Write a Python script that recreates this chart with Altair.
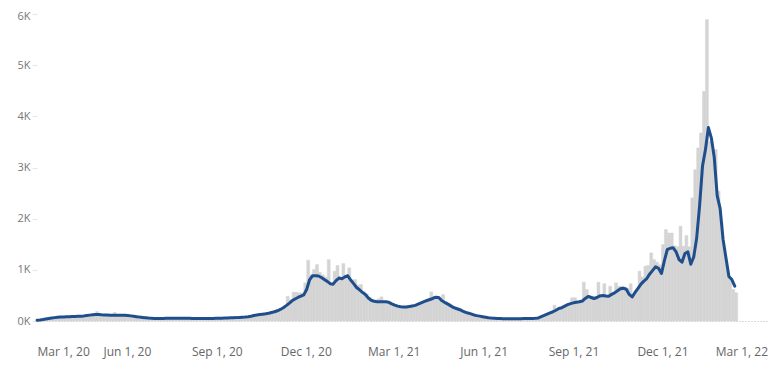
import altair as alt
import pandas as pd

START = "2020-03-01"
BIN_DAYS = 3

# Daily cases in 3-day steps starting Mar 1, 2020
bars_a = [15, 22, 30, 40, 50, 60, 70, 75, 80, 82,
          85, 88, 90, 92, 95, 98, 105, 112, 118, 125,
          185, 125, 122, 118, 116, 115, 166, 115, 114, 114]
bars_b = [113, 110, 102, 94, 86, 78, 72, 66, 60, 56,
          52, 50, 50, 52, 54, 56, 57, 58, 58, 57,
          56, 55, 53, 51, 50, 49, 49, 49, 50, 51]
bars_c = [52, 54, 56, 58, 60, 62, 64, 66, 68, 72,
          76, 80, 88, 98, 112, 122, 130, 138, 146, 158,
          172, 190, 210, 240, 275, 484, 420, 563, 563, 550]
bars_d = [550, 746, 1187, 900, 1006, 1103, 950, 900, 860, 1200,
          700, 973, 1084, 850, 1123, 880, 1039, 800, 811, 700,
          713, 580, 530, 460, 420, 390, 433, 472, 390, 380]
bars_e = [372, 340, 320, 295, 285, 280, 285, 295, 310, 320,
          345, 370, 395, 415, 570, 480, 480, 470, 517, 380,
          350, 315, 280, 255, 244, 210, 185, 165, 145, 125]
bars_f = [110, 100, 88, 78, 68, 60, 57, 52, 50, 47,
          46, 45, 45, 46, 47, 48, 49, 50, 50, 52,
          56, 66, 92, 118, 145, 170, 309, 225, 260, 280]
bars_g = [310, 340, 453, 453, 390, 400, 758, 615, 500, 480,
          460, 758, 510, 729, 510, 680, 540, 746, 680, 680,
          660, 640, 729, 500, 620, 973, 860, 1072, 1085, 1332]
bars_h = [1200, 1150, 1100, 1494, 1787, 1720, 1720, 1470, 1450, 1852,
          1461, 1670, 1450, 2406, 2959, 3383, 3675, 4488, 5889, 3512,
          3350, 3350, 2536, 1924, 1396, 1006, 850, 615, 551]

# 7-day average, read at the same dates
avg_a = [15, 20, 28, 38, 48, 58, 66, 72, 78, 80,
         82, 84, 86, 88, 92, 95, 100, 108, 115, 122,
         127, 125, 120, 117, 115, 113, 113, 113, 113, 113]
avg_b = [112, 108, 100, 92, 84, 76, 70, 64, 58, 54,
         50, 48, 48, 50, 52, 54, 55, 56, 56, 55,
         55, 54, 52, 50, 49, 48, 48, 48, 49, 50]
avg_c = [50, 52, 54, 56, 58, 60, 62, 64, 66, 70,
         74, 78, 84, 94, 108, 118, 125, 132, 140, 150,
         165, 180, 200, 225, 258, 300, 345, 395, 430, 460]
avg_d = [485, 510, 620, 810, 885, 885, 880, 850, 810, 775,
         730, 720, 790, 840, 825, 860, 885, 800, 730, 655,
         610, 560, 517, 450, 405, 385, 375, 375, 375, 375]
avg_e = [365, 335, 310, 290, 277, 272, 275, 285, 295, 305,
         330, 355, 380, 400, 420, 440, 465, 460, 400, 365,
         335, 300, 265, 245, 225, 200, 175, 155, 140, 118]
avg_f = [105, 95, 85, 75, 65, 58, 55, 50, 48, 45,
         44, 43, 43, 44, 45, 46, 47, 48, 48, 49,
         52, 60, 85, 110, 135, 160, 180, 210, 245, 260]
avg_g = [290, 320, 340, 355, 365, 375, 390, 440, 480, 460,
         440, 460, 490, 500, 490, 484, 520, 550, 590, 629,
         640, 620, 520, 470, 560, 640, 720, 780, 830, 920]
avg_h = [990, 1060, 1030, 930, 1180, 1400, 1420, 1430, 1350, 1200,
         1150, 1320, 1350, 1110, 1250, 1620, 2250, 3030, 3350, 3780,
         3580, 3200, 2450, 2200, 1600, 1230, 870, 810, 680]

tick_dates = [(2020, 3), (2020, 6), (2020, 9), (2020, 12), (2021, 3),
              (2021, 6), (2021, 9), (2021, 12), (2022, 3)]
y_ticks = [0, 1000, 2000, 3000, 4000, 5000, 6000]

cases = bars_a + bars_b + bars_c + bars_d + bars_e + bars_f + bars_g + bars_h
avg = avg_a + avg_b + avg_c + avg_d + avg_e + avg_f + avg_g + avg_h

dates = pd.date_range(START, periods=len(cases), freq=f"{BIN_DAYS}D")
df = pd.DataFrame({
    "date": dates.strftime("%Y-%m-%d"),
    "end": (dates + pd.Timedelta(days=BIN_DAYS)).strftime("%Y-%m-%d"),
    "cases": cases,
    "avg": avg,
})

FONT = "Open Sans"

xscale = alt.Scale(domain=[alt.DateTime(year=2020, month=3, date=1),
                           alt.DateTime(year=2022, month=3, date=19)])
yscale = alt.Scale(domain=[0, 6000], nice=False)

xaxis = alt.Axis(
    values=[alt.DateTime(year=y, month=m, date=1) for y, m in tick_dates],
    format="%b %-d, %y",
    ticks=False, tickSize=0,
    grid=False,
    domain=True, domainColor="#b8b8b8", domainDash=[1, 2], domainWidth=1,
    labelFont=FONT, labelFontSize=12, labelColor="#666666",
    labelPadding=25,
    labelAlign={"condition": {"test": "year(datum.value) == 2020 && month(datum.value) == 2",
                              "value": "left"}, "value": "center"},
    labelOffset={"condition": {"test": "year(datum.value) == 2022", "value": -9}, "value": 0},
    title=None,
)
yaxis = alt.Axis(
    values=y_ticks,
    labelExpr="datum.value / 1000 + 'K'",
    domain=False, grid=False,
    ticks=True, tickSize=5, tickColor="#e6e6e6",
    labelFont=FONT, labelFontSize=11, labelColor="#777777",
    labelPadding=2,
    labelOffset={"condition": {"test": "datum.value >= 6000", "value": 2}, "value": 0},
    title=None,
)

base = alt.Chart(df)

bars = base.mark_rect(color="#d4d4d4", stroke="#d4d4d4", strokeWidth=0.5).encode(
    x=alt.X("date:T", scale=xscale, axis=xaxis),
    x2="end:T",
    y=alt.Y("cases:Q", scale=yscale, axis=yaxis),
    y2=alt.datum(0),
)

line = base.mark_line(color="#1f4e8c", strokeWidth=3, strokeCap="round",
                      strokeJoin="round").encode(
    x="date:T",
    y="avg:Q",
)

chart = alt.layer(bars, line).properties(
    width=731, height=307,
    autosize=alt.AutoSizeParams(type="none"),
    padding={"left": 29, "top": 6, "right": 2, "bottom": 40},
).configure_view(stroke=None)

chart.save("out.html", embed_options={"renderer": "svg", "actions": False})
